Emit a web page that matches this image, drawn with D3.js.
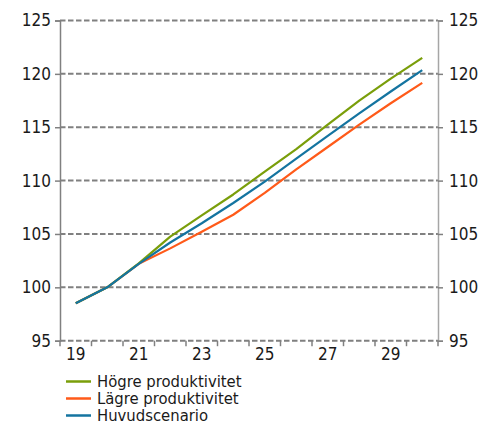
<!DOCTYPE html>
<html>
<head>
<meta charset="utf-8">
<script src="https://cdn.jsdelivr.net/npm/d3@7"></script>
<style>
  html, body { margin: 0; padding: 0; background: #fff; }
  svg { display: block; }
  text { font-family: "DejaVu Sans Condensed", "DejaVu Sans", sans-serif; fill: #1a1a1a; }
</style>
</head>
<body>
<svg id="chart" width="493" height="424"></svg>
<script>
// Years (two-digit labels) and index series
const years = ["19","20","21","22","23","24","25","26","27","28","29","30"];
const tickYears = ["19","21","23","25","27","29"];
const yTicks = [95, 100, 105, 110, 115, 120, 125];

const hogre = [98.5, 100.0, 102.25, 104.75, 106.75, 108.7, 110.85, 112.95, 115.25, 117.5, 119.55, 121.5];
const lagre = [98.5, 100.0, 102.2, 103.65, 105.2, 106.8, 108.85, 111.05, 113.15, 115.25, 117.25, 119.15];
const huvud = [98.5, 100.0, 102.2, 104.2, 106.0, 107.9, 109.9, 112.05, 114.2, 116.3, 118.35, 120.35];

const seriesNames = ["Högre produktivitet", "Lägre produktivitet", "Huvudscenario"];
const seriesColors = ["#7a9e0a", "#ff5a19", "#1474a0"];
const seriesValues = [hogre, lagre, huvud];

const svg = d3.select("#chart");
const plotLeft = 60, plotRight = 438, plotTop = 20.5, plotBottom = 340.7;

const x = d3.scaleBand().domain(years).range([plotLeft, plotRight]).paddingInner(0).paddingOuter(0);
const y = d3.scaleLinear().domain([95, 125]).range([plotBottom, plotTop]);

// Dashed horizontal grid
svg.append("g").selectAll("line").data(yTicks).join("line")
  .attr("x1", plotLeft).attr("x2", plotRight)
  .attr("y1", d => y(d)).attr("y2", d => y(d))
  .attr("stroke", "#808080").attr("stroke-width", 2)
  .attr("stroke-dasharray", "5.5,2.5");

// Left axis
const yLeft = svg.append("g").attr("transform", `translate(${plotLeft},0)`)
  .call(d3.axisLeft(y).tickValues(yTicks).tickSize(5).tickPadding(4));
yLeft.select(".domain").attr("stroke", "#808080").attr("stroke-width", 1.5);
yLeft.selectAll(".tick line").attr("stroke", "#808080").attr("stroke-width", 1.5);
yLeft.selectAll("text").attr("font-size", 17).attr("font-family", null).attr("fill", "#1a1a1a");

// Right axis
const yRight = svg.append("g").attr("transform", `translate(${plotRight},0)`)
  .call(d3.axisRight(y).tickValues(yTicks).tickSize(5).tickPadding(6));
yRight.select(".domain").attr("stroke", "#a6a6a6").attr("stroke-width", 1.5);
yRight.selectAll(".tick line").attr("stroke", "#808080").attr("stroke-width", 1.5);
yRight.selectAll("text").attr("font-size", 17).attr("font-family", null).attr("fill", "#1a1a1a");

// Bottom category ticks at band boundaries
const bounds = years.map(d => x(d)).concat([plotRight]);
svg.append("g").selectAll("line").data(bounds).join("line")
  .attr("x1", d => d).attr("x2", d => d)
  .attr("y1", plotBottom).attr("y2", plotBottom + 5.5)
  .attr("stroke", "#808080").attr("stroke-width", 1.5);

svg.append("g").selectAll("text").data(tickYears).join("text")
  .attr("x", d => x(d) + x.bandwidth() / 2)
  .attr("y", plotBottom + 19)
  .attr("text-anchor", "middle")
  .attr("font-size", 17)
  .text(d => d);

// Lines
const line = d3.line()
  .x((d, i) => x(years[i]) + x.bandwidth() / 2)
  .y(d => y(d));

// draw order: orange, green, blue on top
[1, 0, 2].forEach(k => {
  svg.append("path")
    .datum(seriesValues[k])
    .attr("fill", "none")
    .attr("stroke", seriesColors[k])
    .attr("stroke-width", 2.2)
    .attr("stroke-linejoin", "round")
    .attr("d", line);
});

// Legend
const legend = svg.append("g");
seriesNames.forEach((name, i) => {
  const cy = 381.5 + i * 17;
  legend.append("line")
    .attr("x1", 66).attr("x2", 91)
    .attr("y1", cy).attr("y2", cy)
    .attr("stroke", seriesColors[i]).attr("stroke-width", 2.5);
  legend.append("text")
    .attr("x", 97).attr("y", cy + 5.5)
    .attr("font-size", 16.5)
    .text(name);
});
</script>
</body>
</html>
